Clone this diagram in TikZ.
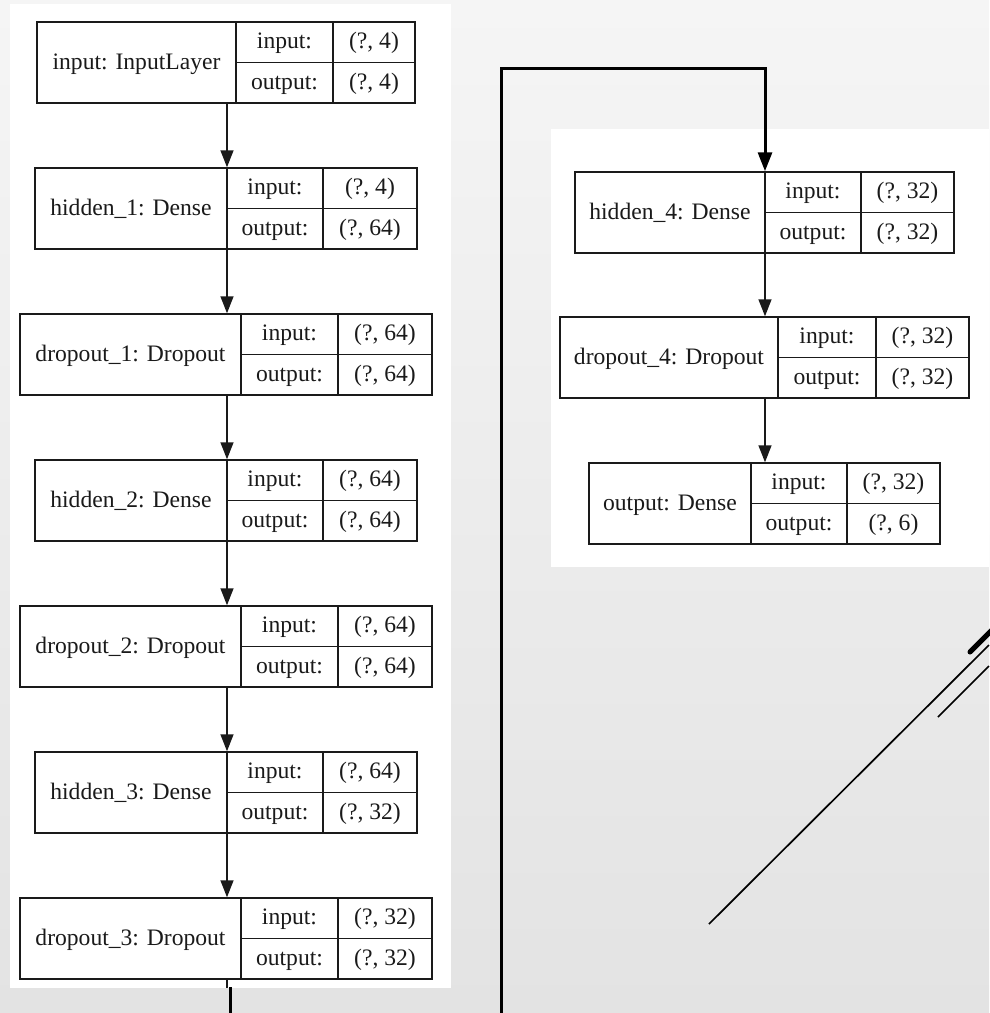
\documentclass[tikz,border=0pt]{standalone}
\usepackage{fontspec}
\setmainfont{Liberation Serif}
\usetikzlibrary{arrows.meta}
\definecolor{bgtop}{HTML}{F5F5F5}
\definecolor{bgbot}{HTML}{E3E3E3}
\definecolor{ink}{HTML}{1A1A1A}
\tikzset{
  layerbox/.style={draw=ink, line width=1.5pt, rectangle, inner sep=0pt, minimum height=81pt},
  cellline/.style={draw=ink, line width=1.5pt},
  txt/.style={inner sep=0pt, anchor=base, text=ink, font=\fontsize{23.6}{28}\selectfont},
  flow/.style={draw=ink, line width=1.5pt, -{Triangle[length=17pt,width=13pt]}},
  plainflow/.style={draw=ink, line width=1.5pt},
  thickflow/.style={draw=black, line width=3pt},
  panel/.style={fill=white, draw=none},
  deco/.style={draw=black, line width=1.7pt},
}
\newcommand{\drawlayer}[9]{%
  \pgfmathsetmacro{\lyW}{#5-#2}%
  \pgfmathsetmacro{\lyX}{(#5+#2)/2}%
  \pgfmathsetmacro{\lyY}{#6+40.5}%
  \node[layerbox, minimum width=\lyW pt] (#1) at (\lyX,\lyY) {};
  \draw[cellline] (#3,#6) -- (#3,#6+81);
  \draw[cellline] (#4,#6) -- (#4,#6+81);
  \draw[cellline] (#3,#6+40.5) -- (#5,#6+40.5);
  \node[txt] (#1-title) at ({(#2+#3)/2},{#6+40.5+6.5}) {#7};
  \node[txt] (#1-inlab) at ({(#3+#4)/2},{#6+20.25+6.5}) {input:};
  \node[txt] (#1-outlab) at ({(#3+#4)/2},{#6+60.75+6.5}) {output:};
  \node[txt] (#1-inval) at ({(#4+#5)/2},{#6+20.25+6.5}) {#8};
  \node[txt] (#1-outval) at ({(#4+#5)/2},{#6+60.75+6.5}) {#9};
}
\begin{document}
\begin{tikzpicture}[x=1pt,y=-1pt]
\useasboundingbox (0,0) rectangle (989,1013);
\shade[top color=bgtop, bottom color=bgbot] (0,0) rectangle (989,1013);
% white panels
\fill[panel] (10,4) rectangle (451,988);
\fill[panel] (551,129) rectangle (989,567);
% left column
\drawlayer{in}{37}{236}{333}{415}{22}{input: InputLayer}{(?, 4)}{(?, 4)}
\drawlayer{h1}{35}{227}{323}{417}{168}{hidden\_1: Dense}{(?, 4)}{(?, 64)}
\drawlayer{d1}{20}{241}{338}{432}{314}{dropout\_1: Dropout}{(?, 64)}{(?, 64)}
\drawlayer{h2}{35}{227}{323}{417}{460}{hidden\_2: Dense}{(?, 64)}{(?, 64)}
\drawlayer{d2}{20}{241}{338}{432}{606}{dropout\_2: Dropout}{(?, 64)}{(?, 64)}
\drawlayer{h3}{35}{227}{323}{417}{752}{hidden\_3: Dense}{(?, 64)}{(?, 32)}
\drawlayer{d3}{20}{241}{338}{432}{898}{dropout\_3: Dropout}{(?, 32)}{(?, 32)}
% right column
\drawlayer{h4}{575}{765}{861}{954}{172}{hidden\_4: Dense}{(?, 32)}{(?, 32)}
\drawlayer{d4}{560}{778}{876}{969}{317}{dropout\_4: Dropout}{(?, 32)}{(?, 32)}
\drawlayer{out}{589}{751}{847}{940}{463}{output: Dense}{(?, 32)}{(?, 6)}
% axes of the arrows
\coordinate (axL) at (227,0);
\coordinate (axR) at (765,0);
\draw[flow] (axL |- in.south) -- (axL |- h1.north);
\draw[flow] (axL |- h1.south) -- (axL |- d1.north);
\draw[flow] (axL |- d1.south) -- (axL |- h2.north);
\draw[flow] (axL |- h2.south) -- (axL |- d2.north);
\draw[flow] (axL |- d2.south) -- (axL |- h3.north);
\draw[flow] (axL |- h3.south) -- (axL |- d3.north);
\draw[flow] (axR |- h4.south) -- (axR |- d4.north);
\draw[flow] (axR |- d4.south) -- (axR |- out.north);
% continuation of dropout_3 output
\coordinate (cutL) at (227,988);
\draw[plainflow] (axL |- d3.south) -- (cutL);
\coordinate (linkA) at (230,987);
\coordinate (linkB) at (230,1013);
\draw[thickflow] (linkA) -- (linkB);
% loop into hidden_4
\coordinate (loopA) at (501.5,1013);
\coordinate (loopB) at (501.5,68.5);
\coordinate (loopC) at (765,68.5);
\draw[thickflow, -{Triangle[length=19pt,width=14pt]}] (loopA) -- (loopB) -- (loopC) -- (axR |- h4.north);
% decorative diagonal lines
\draw[deco] (709,924) -- (989,645);
\draw[deco, line width=1.5pt] (938,717) -- (989,666);
\draw[deco, line width=5pt, line cap=round] (970,652) -- (992,630);
\end{tikzpicture}
\end{document}
